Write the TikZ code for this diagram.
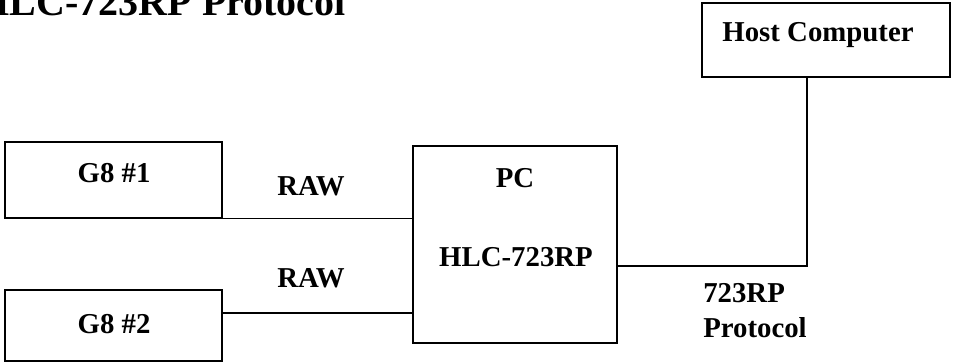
\documentclass[tikz,border=0pt]{standalone}
\usepackage{fontspec}
\setmainfont{Liberation Serif}
\usetikzlibrary{fit}
\begin{document}
\begin{tikzpicture}[x=0.75pt,y=-0.75pt,
  box/.style={draw,line width=0.9pt,inner sep=0pt},
  lbl/.style={inner sep=0pt,font=\bfseries\fontsize{21.6}{26}\selectfont},
  wire/.style={line width=0.9pt}]
\useasboundingbox (0,0) rectangle (953,363);
% title
\node[inner sep=0pt,anchor=base east,font=\bfseries\fontsize{30}{36}\selectfont] (title) at (346,16) {HLC-723RP Protocol};
% boxes
\node[box,fit={(5,142)(222,218)}] (g1) {};
\node[box,fit={(5,290)(222,361)}] (g2) {};
\node[box,fit={(413,146)(617,343)}] (pc) {};
\node[box,fit={(702,3)(950,77)}] (host) {};
% texts
\node[lbl] (t1) at (114,173) {G8 \#1};
\node[lbl] (t2) at (114,324) {G8 \#2};
\node[lbl] (raw1) at (311,186) {RAW};
\node[lbl] (raw2) at (311,278) {RAW};
\node[lbl] (pct) at (515,178) {PC};
\node[lbl] (hlc) at (516,257) {HLC-723RP};
\node[lbl] (hostt) at (818,35) {Host Computer};
\node[lbl,anchor=west,align=left] (p1) at (703,293) {723RP};
\node[lbl,anchor=base west] (p2) at (703,338) {Protocol};
% connectors
\coordinate (l2) at (222,313);
\coordinate (bend) at (807,266);
\draw[wire] (g1.south east) -- (g1.south east -| pc.west);
\draw[wire] (l2) -- (l2 -| pc.west);
\draw[wire] (bend -| pc.east) -- (bend) -- (bend |- host.south);
\end{tikzpicture}
\end{document}
